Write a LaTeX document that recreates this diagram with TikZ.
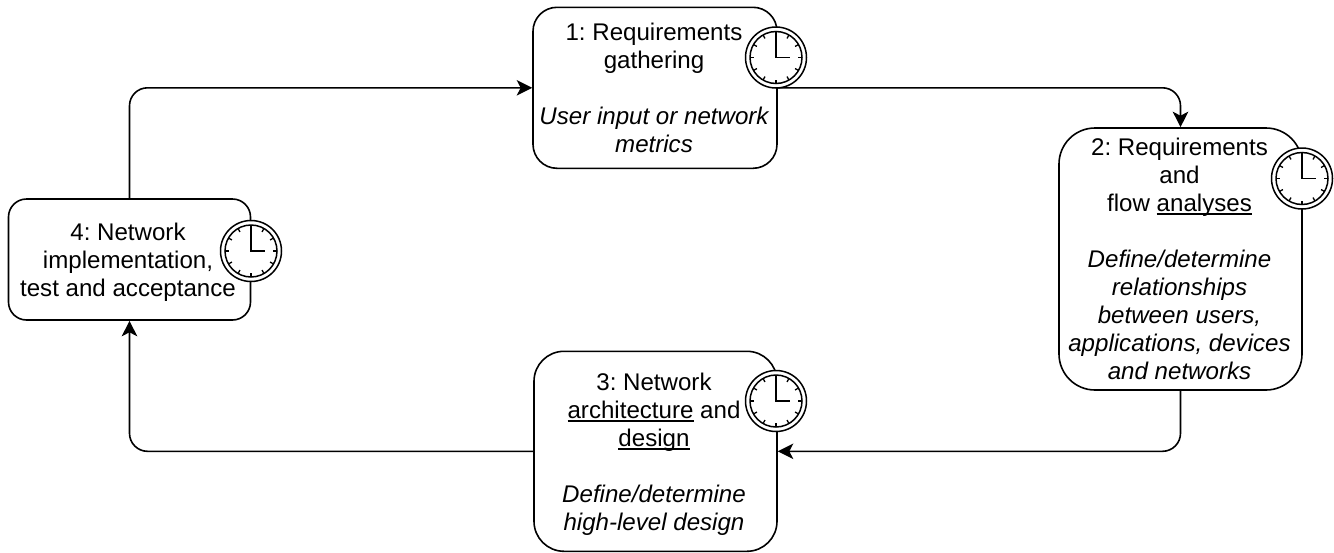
\documentclass[tikz,border=0pt]{standalone}
\usepackage{fontspec}
\setmainfont{Liberation Sans}
\usetikzlibrary{arrows.meta}
\frenchspacing
\newsavebox{\ulnbox}
\newcommand{\uln}[1]{\sbox{\ulnbox}{#1}\rlap{\rule[-3.6pt]{\wd\ulnbox}{1.5pt}}\usebox{\ulnbox}}
\tikzset{
  stepbox/.style={draw=black,line width=1.6pt,rounded corners=#1,fill=white,inner sep=0pt},
  steplabel/.style={align=center,inner sep=0pt,text=black,
    font=\frenchspacing\fontsize{24.1}{28}\selectfont},
  conn/.style={draw=black,line width=1.6pt,rounded corners=18pt,
    -{Stealth[length=15.5pt,width=15.5pt,inset=4pt]}},
  clockring/.style={circle,draw=black,line width=1.5pt,fill=white,minimum size=#1,inner sep=0pt},
}
\newcommand{\clockat}[3]{%
  \node[clockring=61pt] (#1) at (#2,#3) {};
  \node[clockring=52pt] (#1i) at (#2,#3) {};
  \foreach \a in {0,30,...,330}
    \draw[line width=1.3pt] (#1.center) ++(\a:26) -- ++(\a+180:4);
  \draw[line width=1.8pt] (#2,#3-24) -- (#2,#3) -- (#2+14,#3);
}
\begin{document}
\begin{tikzpicture}[x=1pt,y=-1pt]
\useasboundingbox (0,0) rectangle (1334,552);
\node[stepbox=24pt,minimum width=244pt,minimum height=161pt] (s1) at (655,87.8) {};
\node[stepbox=36pt,minimum width=243pt,minimum height=262pt] (s2) at (1180.5,259) {};
\node[stepbox=30pt,minimum width=243pt,minimum height=200pt] (s3) at (655.5,451.3) {};
\node[stepbox=18pt,minimum width=242pt,minimum height=121pt] (s4) at (129.5,259.5) {};
\node[steplabel] (t1) at (654,87.6)
  {1: Requirements\\gathering\\[28pt]\itshape User input or network\\\itshape metrics};
\node[steplabel] (t2) at (1179.5,258.4)
  {2: Requirements\\and\\flow \uln{analyses}\\[28pt]\itshape Define/determine\\\itshape relationships\\\itshape between users,\\\itshape applications, devices\\\itshape and networks};
\node[steplabel] (t3) at (654,454)
  {3: Network\\\uln{architecture} and\\\uln{design}\\[28pt]\itshape Define/determine\\\itshape high-level design};
\node[steplabel] (t4) at (128,261.9)
  {4: Network\\implementation,\\test and acceptance};
\clockat{c1}{776}{57.5}
\clockat{c2}{1302}{178.5}
\clockat{c3}{776}{401}
\clockat{c4}{251}{251}
\draw[conn] (s1.east) -| (s2.north);
\draw[conn] (s2.south) |- (s3.east);
\draw[conn] (s3.west) -| (s4.south);
\draw[conn] (s4.north) |- (s1.west);
\end{tikzpicture}
\end{document}
